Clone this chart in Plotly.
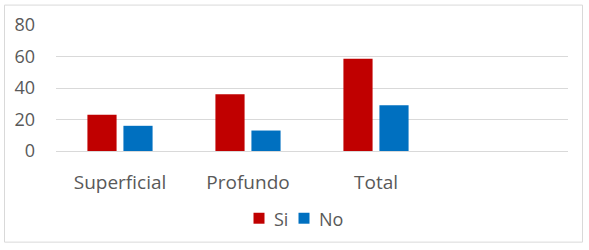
import plotly.graph_objects as go

categories = ["Superficial", "Profundo", "Total", " "]
si_values = [23, 36, 58.6, None]
no_values = [16, 13, 29, None]
y_ticks = [0, 20, 40, 60, 80]
series_names = ["Si", "No"]
series_colors = ["#C00000", "#0070C0"]

FONT = "Open Sans, Segoe UI, sans-serif"
TXT = "#595959"
FS = 18

fig = go.Figure()
for name, vals, col in zip(series_names, [si_values, no_values], series_colors):
    fig.add_trace(go.Bar(name=name, x=categories, y=vals, marker=dict(color=col, line=dict(width=0))))

W, H = 589, 250
L, R, T, B = 56, 21, 24.5, 99
pw, ph = W - L - R, H - T - B

def px(x):
    return (x - L) / pw

def py(y):
    return (H - B - y) / ph

shapes = [dict(type="rect", xref="paper", yref="paper",
               x0=px(4.5), x1=px(582.5), y0=py(242.5), y1=py(4.5),
               line=dict(color="#D9D9D9", width=1), fillcolor="rgba(0,0,0,0)", layer="below")]
annotations = []
# custom legend (Excel style): small square + label
legend_sq_x = [253.5, 298.5]
legend_tx_x = [271.5, 317]
for name, col, sx, tx in zip(series_names, series_colors, legend_sq_x, legend_tx_x):
    shapes.append(dict(type="rect", xref="paper", yref="paper",
                       x0=px(sx), x1=px(sx + 11), y0=py(224), y1=py(213),
                       line=dict(width=0), fillcolor=col))
    annotations.append(dict(text=name, xref="paper", yref="paper", x=px(tx), y=py(219.5),
                            xanchor="left", yanchor="middle", showarrow=False,
                            font=dict(family=FONT, size=FS, color=TXT)))

fig.update_layout(
    width=W, height=H,
    margin=dict(l=L, r=R, t=T, b=B, pad=0),
    paper_bgcolor="white", plot_bgcolor="white",
    barmode="group", bargap=0.4375, bargroupgap=0.19,
    font=dict(family=FONT, size=FS, color=TXT),
    showlegend=False,
    xaxis=dict(showgrid=False, showline=False, ticks="", ticklabelstandoff=18,
               tickfont=dict(family=FONT, size=19, color=TXT), fixedrange=True),
    yaxis=dict(range=[0, 80], tickvals=y_ticks, showgrid=True, gridcolor="#D9D9D9", gridwidth=1,
               zeroline=True, zerolinecolor="#D9D9D9", zerolinewidth=1, showline=False, ticks="",
               ticklabelstandoff=20, tickfont=dict(family=FONT, size=FS, color=TXT)),
    shapes=shapes,
    annotations=annotations,
)

fig.write_html("out.html")
